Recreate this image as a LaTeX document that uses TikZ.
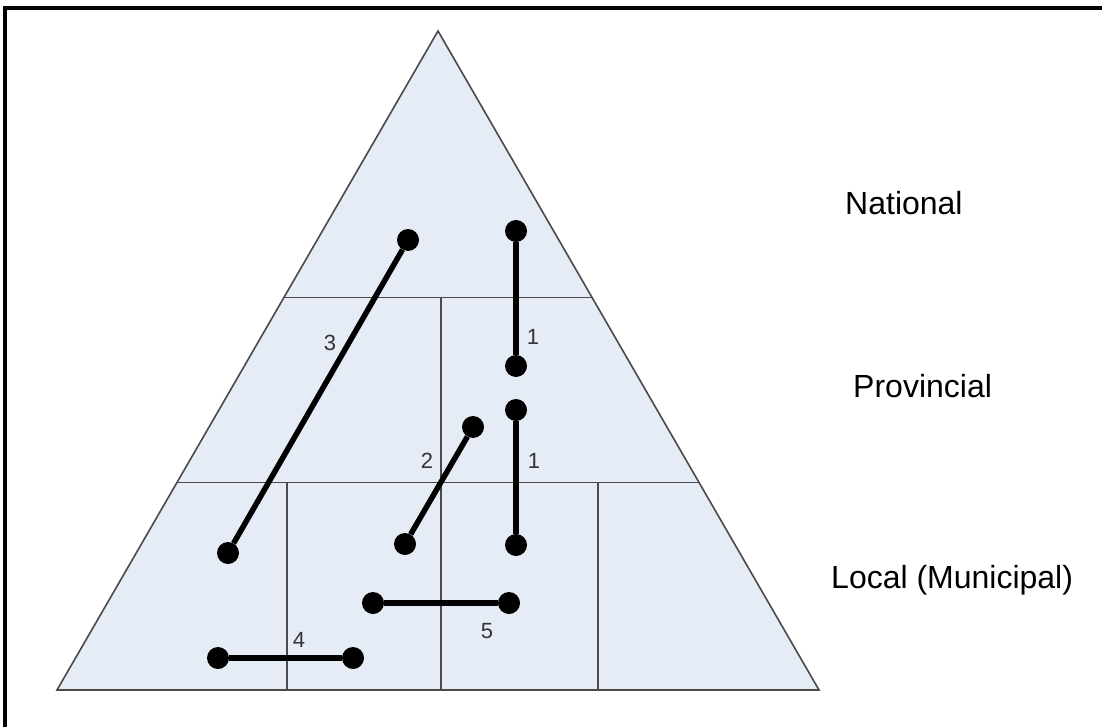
\documentclass[tikz,border=0pt]{standalone}
\usepackage{fontspec}
\setmainfont{Liberation Sans}
\usepackage{xcolor}
\definecolor{ink}{HTML}{000000}
\definecolor{edge}{HTML}{4A4A4A}
\definecolor{tierfill}{HTML}{E5ECF5}
\definecolor{numtxt}{HTML}{333333}
\usetikzlibrary{calc}
\tikzset{
  tier/.style={draw=edge,line width=1.6pt,fill=tierfill,line join=miter},
  divider/.style={draw=edge,line width=1.3pt},
  dot/.style={circle,fill=ink,inner sep=0pt,minimum size=22pt},
  link/.style={draw=ink,line width=5.5pt},
  num/.style={font=\fontsize{22}{24}\selectfont,text=numtxt,inner sep=0pt},
  level/.style={font=\fontsize{32}{36}\selectfont,text=ink,inner sep=0pt,anchor=base west},
  frame/.style={draw=ink,line width=3.5pt},
}

\begin{document}
\begin{tikzpicture}[x=1pt,y=-1pt]
  \useasboundingbox (0,0) rectangle (1102,727);
  \draw[frame] (5,727) -- (5,8) -- (1102,8);

  % pyramid and its tiers
  \coordinate (apex) at (438,31);
  \coordinate (bl) at (57,690);
  \coordinate (br) at (819,690);
  \draw[tier] (apex) -- (bl) -- (br) -- cycle;
  \coordinate (m1l) at ($(apex)!0.4043!(bl)$);
  \coordinate (m1r) at ($(apex)!0.4043!(br)$);
  \coordinate (m2l) at ($(apex)!0.6854!(bl)$);
  \coordinate (m2r) at ($(apex)!0.6854!(br)$);
  \draw[divider] (m1l) -- (m1r);
  \draw[divider] (m2l) -- (m2r);
  \coordinate (vp) at (441,0);
  \draw[divider] (m1l -| vp) -- (m2l -| vp);
  \foreach \x in {287,441,598}{
    \coordinate (vl) at (\x,0);
    \draw[divider] (m2l -| vl) -- (bl -| vl);
  }

  % relations
  \node[dot] (n1a) at (516,231) {};
  \node[dot] (n1b) at (516,366) {};
  \node[dot] (n1c) at (516,410) {};
  \node[dot] (n1d) at (516,545) {};
  \node[dot] (n2a) at (473,427) {};
  \node[dot] (n2b) at (405,544) {};
  \node[dot] (n3a) at (408,240) {};
  \node[dot] (n3b) at (228,553) {};
  \node[dot] (n4a) at (218,658) {};
  \node[dot] (n4b) at (353,658) {};
  \node[dot] (n5a) at (373,603) {};
  \node[dot] (n5b) at (509,603) {};
  \draw[link] (n1a) -- (n1b);
  \draw[link] (n1c) -- (n1d);
  \draw[link] (n2a) -- (n2b);
  \draw[link] (n3a) -- (n3b);
  \draw[link] (n4a) -- (n4b);
  \draw[link] (n5a) -- (n5b);

  \node[num] (l1a) at (533,337) {1};
  \node[num] (l1b) at (534,461) {1};
  \node[num] (l2) at (427,461) {2};
  \node[num] (l3) at (330,343) {3};
  \node[num] (l4) at (299,640) {4};
  \node[num] (l5) at (487,631) {5};

  % level names
  \node[level] (nat) at (845,215) {National};
  \node[level] (prov) at (853,397) {Provincial};
  \node[level] (loc) at (831,588) {Local (Municipal)};
\end{tikzpicture}
\end{document}
